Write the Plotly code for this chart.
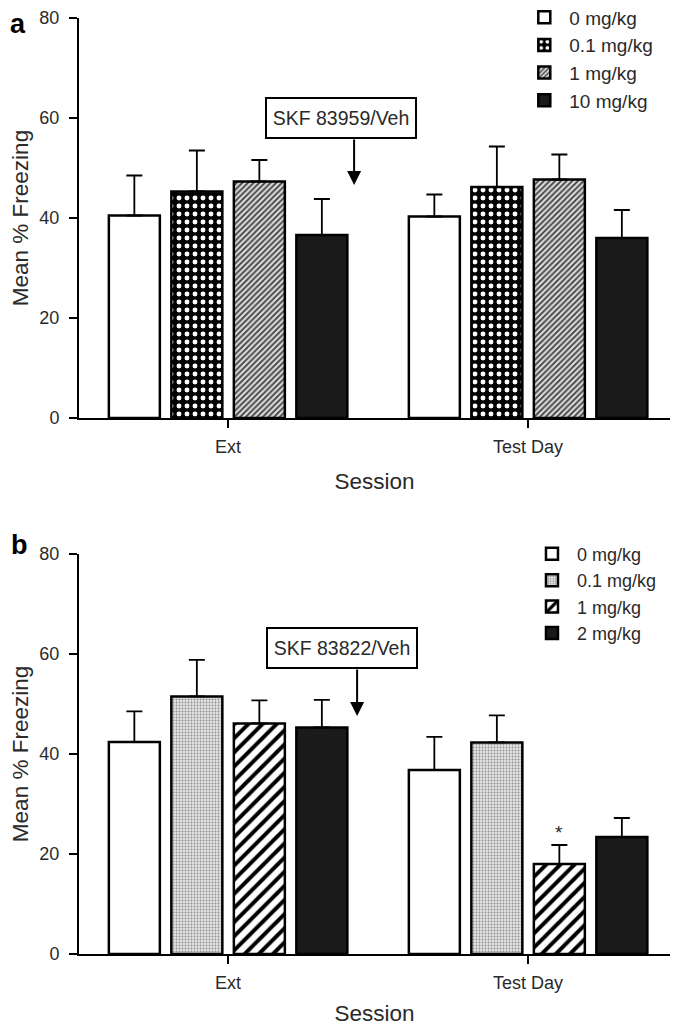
import plotly.graph_objects as go

sessions = ["Ext", "Test Day"]

# Panel a (SKF 83959)
doses_a = ["0 mg/kg", "0.1 mg/kg", "1 mg/kg", "10 mg/kg"]
mean_a = {
    "0 mg/kg": [40.5, 40.3],
    "0.1 mg/kg": [45.3, 46.2],
    "1 mg/kg": [47.3, 47.7],
    "10 mg/kg": [36.6, 36.0],
}
sem_a = {
    "0 mg/kg": [8.0, 4.4],
    "0.1 mg/kg": [8.2, 8.1],
    "1 mg/kg": [4.3, 5.0],
    "10 mg/kg": [7.2, 5.6],
}

# Panel b (SKF 83822)
doses_b = ["0 mg/kg", "0.1 mg/kg", "1 mg/kg", "2 mg/kg"]
mean_b = {
    "0 mg/kg": [42.4, 36.8],
    "0.1 mg/kg": [51.5, 42.3],
    "1 mg/kg": [46.1, 18.0],
    "2 mg/kg": [45.3, 23.4],
}
sem_b = {
    "0 mg/kg": [6.1, 6.6],
    "0.1 mg/kg": [7.3, 5.4],
    "1 mg/kg": [4.6, 3.8],
    "2 mg/kg": [5.5, 3.8],
}

FONT = "Liberation Sans, Arial, sans-serif"
TXT = "#2a2a2a"

styles_a = [
    dict(color="white"),
    dict(color="black", pattern=dict(shape=".", fgcolor="white", bgcolor="black", fgopacity=1,
                                     size=8, solidity=0.3)),
    dict(color="#bbbbbb", pattern=dict(shape="/", fgcolor="#3a3a3a", bgcolor="#d6d6d6", fgopacity=1,
                                       size=4, solidity=0.4)),
    dict(color="#1a1a1a"),
]
styles_b = [
    dict(color="white"),
    dict(color="#d0d0d0", pattern=dict(shape=".", fgcolor="#8c8c8c", bgcolor="#e4e4e4", fgopacity=1,
                                       size=3, solidity=0.3)),
    dict(color="white", pattern=dict(shape="/", fgcolor="black", bgcolor="white", fgopacity=1,
                                     size=10, solidity=0.4)),
    dict(color="#1a1a1a"),
]

fig = go.Figure()

def add_panel(doses, means, sems, styles, xa, ya, legend):
    for d, st in zip(doses, styles):
        marker = dict(line=dict(color="black", width=2.5), **st)
        fig.add_trace(go.Bar(
            x=sessions, y=means[d], name=d, marker=marker,
            xaxis=xa, yaxis=ya, legend=legend,
            error_y=dict(type="data", array=sems[d], arrayminus=[0, 0], symmetric=False,
                         color="black", thickness=1.8, width=8),
        ))

add_panel(doses_a, mean_a, sem_a, styles_a, "x", "y", "legend")
add_panel(doses_b, mean_b, sem_b, styles_b, "x2", "y2", "legend2")

xrange = [-0.497, 1.473]
axis_common = dict(
    showline=True, linecolor="black", linewidth=2, ticks="outside", ticklen=8,
    tickwidth=2, tickcolor="black", showgrid=False, zeroline=False, automargin=False,
    tickfont=dict(family=FONT, size=18, color=TXT),
)
title_font = dict(family=FONT, size=22.5, color=TXT)

fig.update_layout(
    width=671, height=1020,
    margin=dict(l=71, r=9, t=10, b=74, autoexpand=False),
    paper_bgcolor="white", plot_bgcolor="white",
    barmode="group", bargap=0.1667, bargroupgap=0.184,
    font=dict(family=FONT, color=TXT),
    xaxis=dict(domain=[0, 1], anchor="y", range=xrange, type="category",
               title=dict(text="Session", font=title_font, standoff=18),
               ticklabelstandoff=3, **axis_common),
    yaxis=dict(domain=[0.5726, 1], anchor="x", range=[0, 80], tickvals=[0, 20, 40, 60, 80],
               title=dict(text="Mean % Freezing", font=title_font, standoff=6),
               ticklabelstandoff=6, **axis_common),
    xaxis2=dict(domain=[0, 1], anchor="y2", range=xrange, type="category",
                title=dict(text="Session", font=title_font, standoff=14),
                ticklabelstandoff=3, **axis_common),
    yaxis2=dict(domain=[0, 0.4274], anchor="x2", range=[0, 80], tickvals=[0, 20, 40, 60, 80],
                title=dict(text="Mean % Freezing", font=title_font, standoff=6),
                ticklabelstandoff=6, **axis_common),
    legend=dict(x=0.745, y=1.021, xanchor="left", yanchor="top", bgcolor="rgba(0,0,0,0)",
                font=dict(family=FONT, size=19, color=TXT), tracegroupgap=0, itemwidth=40),
    legend2=dict(x=0.758, y=0.447, xanchor="left", yanchor="top", bgcolor="rgba(0,0,0,0)",
                 font=dict(family=FONT, size=18, color=TXT), tracegroupgap=0, itemwidth=40),
    showlegend=True,
)

annos = [
    # panel letters
    dict(text="<b>a</b>", x=-0.1185, y=1.0107, xref="paper", yref="paper", showarrow=False,
         font=dict(family=FONT, size=27, color="black"), xanchor="left", yanchor="top",
         borderpad=0),
    dict(text="<b>b</b>", x=-0.1185, y=0.437, xref="paper", yref="paper", showarrow=False,
         font=dict(family=FONT, size=27, color="black"), xanchor="left", yanchor="middle"),
    # boxes
    dict(text="SKF 83959/Veh", x=0.375, y=60, xref="x", yref="y", showarrow=False,
         font=dict(family=FONT, size=19.5, color=TXT), bordercolor="black", borderwidth=2,
         borderpad=6, bgcolor="white", width=136, height=26),
    dict(text="", x=0.42, y=46.6, xref="x", yref="y", showarrow=True, ax=0, ay=-47,
         arrowhead=2, arrowsize=1.4, arrowwidth=2, arrowcolor="black"),
    dict(text="SKF 83822/Veh", x=0.38, y=61.2, xref="x2", yref="y2", showarrow=False,
         font=dict(family=FONT, size=19.5, color=TXT), bordercolor="black", borderwidth=2,
         borderpad=6, bgcolor="white", width=136, height=26),
    dict(text="", x=0.43, y=47.6, xref="x2", yref="y2", showarrow=True, ax=0, ay=-48,
         arrowhead=2, arrowsize=1.4, arrowwidth=2, arrowcolor="black"),
    # significance star
    dict(text="*", x="Test Day", y=mean_b["1 mg/kg"][1] + sem_b["1 mg/kg"][1], xref="x2", yref="y2",
         xshift=31, yshift=12, showarrow=False, font=dict(family=FONT, size=19, color=TXT)),
]
fig.update_layout(annotations=annos)

fig.write_html("out.html")
